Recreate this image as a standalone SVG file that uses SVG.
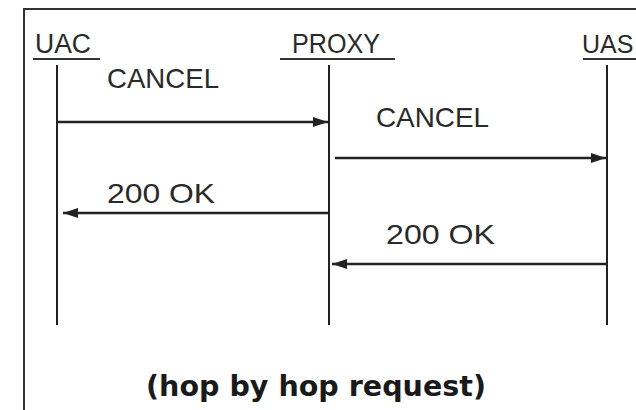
<svg xmlns="http://www.w3.org/2000/svg" width="636" height="410" viewBox="0 0 636 410">
<defs>
<style>
.lbl{font-family:"Liberation Sans",Arial,sans-serif;font-size:27px;fill:#2a2a2a}
.msg{font-family:"Liberation Sans",Arial,sans-serif;font-size:28px;fill:#2a2a2a}
.cap{font-family:"DejaVu Sans",Verdana,sans-serif;font-size:28px;font-weight:bold;fill:#1a1a1a}
.life{stroke:#222;stroke-width:2;fill:none}
.ul{stroke:#333;stroke-width:2}
.arr{stroke:#222;stroke-width:2.4;fill:none}
</style>
<marker id="ah" viewBox="0 0 15 10" refX="15" refY="5" markerWidth="15" markerHeight="10" markerUnits="userSpaceOnUse" orient="auto">
<path d="M0,0 L15,5 L0,10 Z" fill="#222"/>
</marker>
</defs>
<rect width="636" height="410" fill="#fff"/>
<path d="M24,412 L24,9 L640,9" fill="none" stroke="#333" stroke-width="2"/>
<g id="uac">
<text class="lbl" x="35" y="53" textLength="56" lengthAdjust="spacingAndGlyphs">UAC</text>
<line class="ul" x1="33" y1="59" x2="100" y2="59"/>
<line class="life" x1="57" y1="65" x2="57" y2="325"/>
</g>
<g id="proxy">
<text class="lbl" x="292" y="53" textLength="88" lengthAdjust="spacingAndGlyphs">PROXY</text>
<line class="ul" x1="280" y1="59" x2="395" y2="59"/>
<line class="life" x1="329" y1="65" x2="329" y2="325"/>
</g>
<g id="uas">
<text class="lbl" x="582" y="53" style="font-size:25px">UAS</text>
<line class="ul" x1="583" y1="59" x2="636" y2="59"/>
<line class="life" x1="607" y1="65" x2="607" y2="325"/>
</g>
<g id="connectors">
<line class="arr" x1="58" y1="122" x2="328" y2="122" marker-end="url(#ah)"/>
<line class="arr" x1="335" y1="158" x2="606" y2="158" marker-end="url(#ah)"/>
<line class="arr" x1="328" y1="213" x2="63" y2="213" marker-end="url(#ah)"/>
<line class="arr" x1="606" y1="264" x2="332" y2="264" marker-end="url(#ah)"/>
<text class="msg" x="107" y="88" textLength="112" lengthAdjust="spacingAndGlyphs">CANCEL</text>
<text class="msg" x="376" y="127" textLength="113" lengthAdjust="spacingAndGlyphs">CANCEL</text>
<text class="msg" x="107" y="203" textLength="108" lengthAdjust="spacingAndGlyphs">200 OK</text>
<text class="msg" x="386" y="244" textLength="109" lengthAdjust="spacingAndGlyphs">200 OK</text>
</g>
<text class="cap" x="146" y="396" textLength="340" lengthAdjust="spacingAndGlyphs">(hop by hop request)</text>
</svg>
